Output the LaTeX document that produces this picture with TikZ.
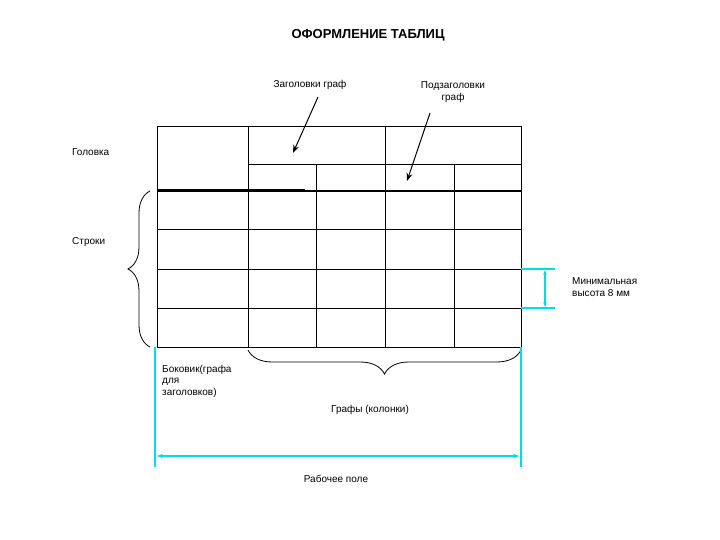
\documentclass[tikz,border=0pt]{standalone}
\usepackage{fontspec}
\setmainfont{Liberation Sans}
\usetikzlibrary{arrows.meta,decorations.pathreplacing}
\begin{document}
\begin{tikzpicture}[x=1pt,y=-1pt,
  lbl/.style={font=\fontsize{10}{11.5}\selectfont,inner sep=0pt},
  grid/.style={line width=1pt,black},
  cy/.style={draw={rgb,255:red,0;green,220;blue,230},line width=1.4pt},
  brace/.style={draw,line width=0.8pt,decorate,decoration={brace,amplitude=#1}}]
\useasboundingbox (0,0) rectangle (720,540);
\node[lbl,font=\bfseries\fontsize{13}{15}\selectfont] (title) at (368,35) {ОФОРМЛЕНИЕ ТАБЛИЦ};
% table
\draw[grid] (157,127) rectangle (521,347);
\draw[grid] (248,127) -- (248,347);
\draw[grid] (385,127) -- (385,347);
\draw[grid] (316,165) -- (316,347);
\draw[grid] (454,165) -- (454,347);
\draw[grid] (248,165) -- (521,165);
\draw[line width=2pt] (157,191) -- (521,191);
\draw[line width=3pt] (157,191) -- (305,191);
\foreach \y in {230,269,308} \draw[grid] (157,\y) -- (521,\y);
% labels
\node[lbl] (zg) at (310,85) {Заголовки граф};
\node[lbl,align=center] (pg) at (453,92) {Подзаголовки\\граф};
\coordinate (a1) at (293,153);
\coordinate (a2) at (407,181);
\draw[-{Stealth[length=8pt]},line width=1pt] (318,97) -- (a1);
\draw[-{Stealth[length=8pt]},line width=1pt] (430,113) -- (a2);
\node[lbl,anchor=west] (gol) at (72,152) {Головка};
\node[lbl,anchor=west] (str) at (72,242) {Строки};
\node[lbl,anchor=west,align=left] (min) at (572,287) {Минимальная\\высота 8 мм};
\node[lbl,anchor=north west,align=left] (bok) at (162,365) {Боковик(графа\\для\\заголовков)};
\node[lbl] (gr) at (370,410) {Графы (колонки)};
\node[lbl] (rp) at (336,479) {Рабочее поле};
% braces
\draw[brace=22pt] (150,347) -- (150,191);
\draw[brace=24pt] (521,350) -- (248,350);
% cyan dims
\draw[cy] (155,347) -- (155,467);
\draw[cy] (521,347) -- (521,467);
\draw[cy,line width=2.2pt,{Stealth[length=6pt]}-{Stealth[length=6pt]}] (157,456) -- (519,456);
\draw[cy] (521,269) -- (555,269);
\draw[cy] (521,308) -- (555,308);
\draw[cy,{Stealth[length=5pt]}-{Stealth[length=5pt]}] (545,270) -- (545,307);
\end{tikzpicture}
\end{document}
